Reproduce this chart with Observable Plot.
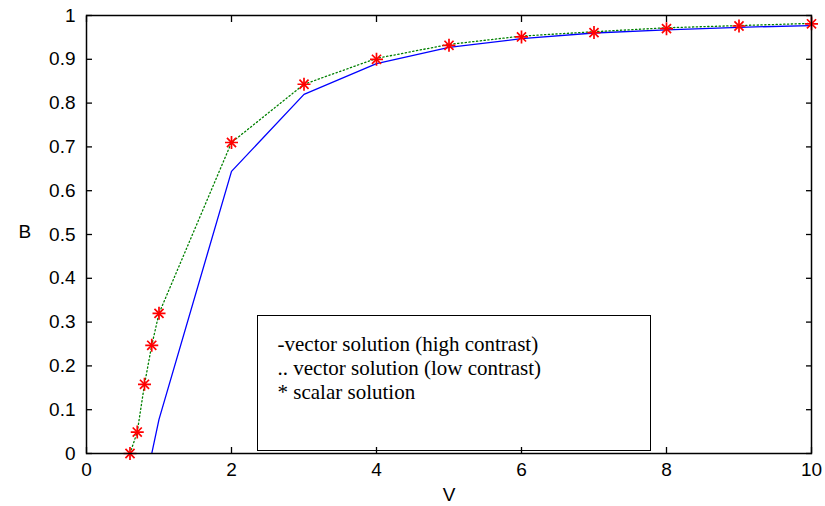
<!DOCTYPE html>
<html>
<head>
<meta charset="utf-8">
<script src="https://cdn.jsdelivr.net/npm/d3@7"></script>
<script src="https://cdn.jsdelivr.net/npm/@observablehq/plot@0.6"></script>
<style>
  html, body { margin: 0; padding: 0; background: #fff; }
  #wrap { position: relative; width: 825px; height: 506px; }
</style>
</head>
<body>
<div id="wrap"></div>
<script>
// Tick labels
const xTicks = [0, 2, 4, 6, 8, 10];
const yTicks = [0, 0.1, 0.2, 0.3, 0.4, 0.5, 0.6, 0.7, 0.8, 0.9, 1];

// Scalar solution (red asterisks)
const scalarV = [0.6, 0.7, 0.8, 0.9, 1, 2, 3, 4, 5, 6, 7, 8, 9, 10];
const scalarB = [0, 0.049, 0.158, 0.247, 0.32, 0.71, 0.843, 0.90, 0.932, 0.951, 0.961, 0.970, 0.976, 0.981];

// Vector solution, low contrast (green dotted)
const lowV = [0.6, 0.7, 0.8, 0.9, 1, 2, 3, 4, 5, 6, 7, 8, 9, 10];
const lowB = [0, 0.049, 0.158, 0.247, 0.32, 0.71, 0.843, 0.902, 0.934, 0.953, 0.963, 0.972, 0.977, 0.982];

// Vector solution, high contrast (blue solid)
const highV = [0.9, 1, 2, 3, 4, 5, 6, 7, 8, 9, 10];
const highB = [0, 0.078, 0.644, 0.82, 0.89, 0.927, 0.947, 0.96, 0.967, 0.973, 0.977];

const legendLines = ["-vector solution (high contrast)", ".. vector solution (low contrast)", "* scalar solution"];

const scalar = scalarV.map((v, i) => ({V: v, B: scalarB[i]}));
const low = lowV.map((v, i) => ({V: v, B: lowB[i]}));
const high = highV.map((v, i) => ({V: v, B: highB[i]}));

const plusSym = {draw(ctx, size) { const r = Math.sqrt(size / Math.PI); ctx.moveTo(-r, 0); ctx.lineTo(r, 0); ctx.moveTo(0, -r); ctx.lineTo(0, r); }};
const timesSym = {draw(ctx, size) { const r = Math.sqrt(size / Math.PI) * 0.7; ctx.moveTo(-r, -r); ctx.lineTo(r, r); ctx.moveTo(-r, r); ctx.lineTo(r, -r); }};

const sans = "Liberation Sans";
const serif = "Liberation Serif";
const fs = 19;

const chart = Plot.plot({
  width: 825,
  height: 506,
  marginLeft: 86,
  marginRight: 14,
  marginTop: 15,
  marginBottom: 53,
  x: {domain: [0, 10]},
  y: {domain: [0, 1]},
  marks: [
    Plot.axisX({anchor: "bottom", ticks: xTicks, tickSize: -6, tickPadding: 15, label: null, fontFamily: sans, fontSize: fs, fill: "#000", stroke: "#000", strokeWidth: 1.3}),
    Plot.axisX({anchor: "top", ticks: xTicks, tickSize: -6, tickFormat: () => "", label: null, stroke: "#000", strokeWidth: 1.3}),
    Plot.axisY({anchor: "left", ticks: yTicks, tickSize: -6, tickPadding: 17, tickFormat: d => String(+d.toFixed(1)), label: null, fontFamily: sans, fontSize: fs, fill: "#000", stroke: "#000", strokeWidth: 1.3}),
    Plot.axisY({anchor: "right", ticks: yTicks, tickSize: -6, tickFormat: () => "", label: null, stroke: "#000", strokeWidth: 1.3}),
    Plot.line(high, {x: "V", y: "B", stroke: "#0000ff", strokeWidth: 1.3, clip: true}),
    Plot.line(low, {x: "V", y: "B", stroke: "#008000", strokeWidth: 1.3, strokeDasharray: "1.3,2.5", clip: true}),
    Plot.dot(scalar, {x: "V", y: "B", symbol: plusSym, r: 6.5, stroke: "#ff0000", strokeWidth: 1.7}),
    Plot.dot(scalar, {x: "V", y: "B", symbol: timesSym, r: 6.5, stroke: "#ff0000", strokeWidth: 1.7}),
    Plot.frame({stroke: "#000", strokeWidth: 1.5}),
    Plot.text(["B"], {frameAnchor: "left", dx: -68, dy: -3, fontFamily: sans, fontSize: fs, fill: "#000"}),
    Plot.text(["V"], {frameAnchor: "bottom", dy: 47, fontFamily: sans, fontSize: fs, fill: "#000"}),
    Plot.text([legendLines.join("\n")], {
      frameAnchor: "top-left", textAnchor: "start", lineAnchor: "top",
      dx: 191, dy: 318, lineHeight: 24 / 21,
      fontFamily: serif, fontSize: 21, fill: "#000"
    })
  ]
});
chart.style.background = "#fff";

const wrap = document.getElementById("wrap");
wrap.appendChild(chart);
const box = document.createElement("div");
Object.assign(box.style, {
  position: "absolute", left: "257px", top: "315px", width: "394px", height: "136px",
  border: "1.5px solid #000", background: "transparent", boxSizing: "border-box", pointerEvents: "none"
});
wrap.appendChild(box);
</script>
</body>
</html>
